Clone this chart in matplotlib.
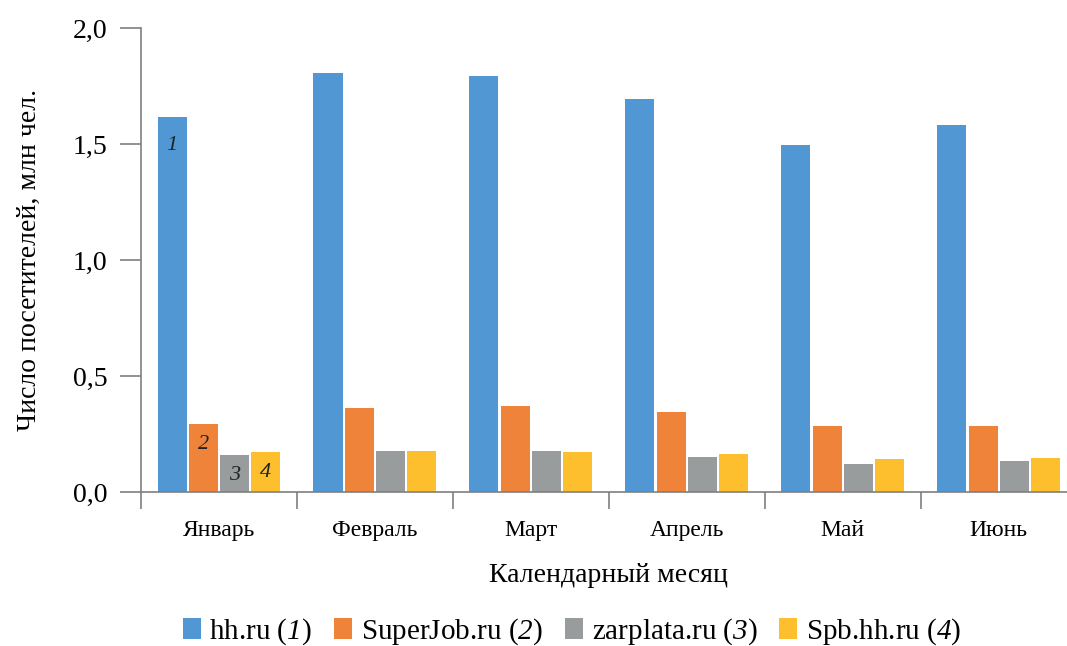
import numpy as np
import matplotlib.pyplot as plt
from matplotlib.ticker import FixedLocator, FuncFormatter

plt.rcParams['font.family'] = 'serif'
plt.rcParams['font.serif'] = ['Liberation Serif']
plt.rcParams['mathtext.fontset'] = 'custom'
plt.rcParams['mathtext.rm'] = 'Liberation Serif'
# mathtext keeps digits upright in \mathit, so borrow the cal slot for italic digits
plt.rcParams['mathtext.cal'] = 'Liberation Serif:italic'

months = ["Январь", "Февраль", "Март", "Апрель", "Май", "Июнь"]
hh = [1.62, 1.806, 1.793, 1.694, 1.496, 1.582]
superjob = [0.293, 0.362, 0.371, 0.345, 0.284, 0.284]
zarplata = [0.160, 0.177, 0.177, 0.151, 0.121, 0.134]
spb = [0.172, 0.177, 0.172, 0.164, 0.142, 0.147]

series = [hh, superjob, zarplata, spb]
names = ["hh.ru ($\\mathcal{1}$)", "SuperJob.ru ($\\mathcal{2}$)",
         "zarplata.ru ($\\mathcal{3}$)", "Spb.hh.ru ($\\mathcal{4}$)"]
colors = ["#5097D3", "#F0833A", "#999C9D", "#FDBF2D"]
marks = ["1", "2", "3", "4"]

fig = plt.figure(figsize=(10.67, 6.46), dpi=100)
ax = fig.add_axes([0.132, 0.238, 0.877, 0.718])

x = np.arange(len(months))
slot = 0.2
bars = []
for i, (vals, c) in enumerate(zip(series, colors)):
    pos = x + (i - 1.5) * slot
    b = ax.bar(pos, vals, width=slot * 0.93, color=c, label=names[i], zorder=2)
    bars.append(b)
    # series number inside the January bar
    ax.annotate(marks[i], (pos[0], vals[0]), xytext=(0, -8 if i else -14),
                textcoords="offset points", ha="center", va="top",
                fontsize=16, style="italic", color="#222222", zorder=3)

ax.set_xlim(-0.5, len(months) - 0.5)
ax.set_ylim(0, 2.0)
ax.set_yticks([0, 0.5, 1.0, 1.5, 2.0])
ax.yaxis.set_major_formatter(FuncFormatter(lambda v, p: f"{v:.1f}".replace(".", ",")))

ax.xaxis.set_major_locator(FixedLocator(np.arange(len(months) + 1) - 0.5))
ax.xaxis.set_major_formatter(FuncFormatter(lambda v, p: ""))
ax.set_xticks(x, minor=True)
ax.set_xticklabels(months, minor=True, fontsize=17)
ax.tick_params(axis="x", which="minor", length=0, pad=20)
ax.tick_params(axis="x", which="major", length=12, direction="out",
               color="#7f7f7f", width=1.2)
ax.tick_params(axis="y", length=15, color="#7f7f7f", width=1.2,
               labelsize=20, pad=9)

for s in ["top", "right"]:
    ax.spines[s].set_visible(False)
for s in ["left", "bottom"]:
    ax.spines[s].set_color("#7f7f7f")
    ax.spines[s].set_linewidth(1.2)
ax.spines["bottom"].set_zorder(3)

ax.set_ylabel("Число посетителей, млн чел.", fontsize=20, labelpad=22)
ax.set_xlabel("Календарный месяц", fontsize=20, labelpad=16)

fig.legend(handles=bars, labels=names, loc="center", bbox_to_anchor=(0.536, 0.022),
           ncol=4, frameon=False, fontsize=21, handlelength=0.62, handleheight=0.7,
           handletextpad=0.3, columnspacing=0.75)

fig.savefig("out.png", dpi=100)
